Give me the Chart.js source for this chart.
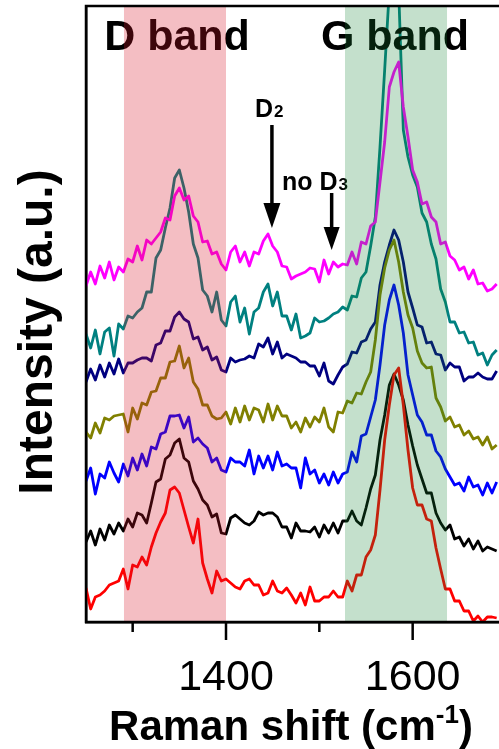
<!DOCTYPE html>
<html><head><meta charset="utf-8">
<script src="https://cdn.jsdelivr.net/npm/chart.js@4.4.1/dist/chart.umd.min.js"></script>
<style>html,body{margin:0;padding:0;background:#fff;overflow:hidden}canvas{display:block}</style>
</head><body>
<canvas id="c" width="499" height="749"></canvas>
<script>
// Raman shift (cm-1) sample positions
const ramanShift = [1250,1255,1260,1265,1270,1275,1280,1285,1290,1295,
1300,1305,1310,1315,1320,1325,1330,1335,1340,1345,
1350,1355,1360,1365,1370,1375,1380,1385,1390,1395,
1400,1405,1410,1415,1420,1425,1430,1435,1440,1445,
1450,1455,1460,1465,1470,1475,1480,1485,1490,1495,
1500,1505,1510,1515,1520,1525,1530,1535,1540,1545,
1550,1555,1560,1565,1570,1575,1580,1585,1590,1595,
1600,1605,1610,1615,1620,1625,1630,1635,1640,1645,
1650,1655,1660,1665,1670,1675,1680,1685,1690];

// stacked spectra (arbitrary intensity units, offsets included)
const magentaSpectrum = [336,350,338,356,344,360,342,355,350,363,
360,376,362,382,378,384,390,404,402,426,
434,422,426,406,400,380,381,368,370,358,
352,370,376,360,370,356,370,368,381,388,
376,370,356,355,343,346,348,350,354,353,
340,362,348,360,355,358,357,370,358,380,
378,396,400,440,480,535,550,560,515,485,
452,440,418,420,405,400,378,380,366,362,
352,355,343,352,338,339,331,333,338];

const tealSpectrum = [288,274,292,268,290,294,266,298,293,306,
304,310,314,330,330,364,372,394,414,444,
452,434,410,378,364,332,326,310,330,302,
296,320,326,300,314,288,310,314,330,338,
316,330,306,306,292,308,284,286,289,304,
300,301,304,308,310,315,312,326,325,344,
350,376,405,475,552,632,642,632,492,465,
447,435,409,400,378,363,333,320,300,300,
289,290,279,280,267,269,257,267,272];

const navySpectrum = [240,253,242,257,245,259,248,263,249,259,
259,262,264,264,261,277,279,291,291,305,
310,303,300,283,285,272,275,262,265,252,
250,264,260,262,263,266,264,278,275,284,
268,280,264,268,266,264,260,260,256,256,
246,259,241,238,247,255,258,270,269,280,
282,293,300,337,360,377,392,382,360,330,
314,297,295,279,280,268,267,252,259,255,
255,241,245,245,249,245,243,243,251];

const oliveSpectrum = [190,184,199,189,204,202,206,207,208,190,
214,203,219,217,230,231,244,244,260,261,
276,254,264,240,233,217,217,206,203,204,
210,198,214,200,216,202,214,212,200,218,
202,216,206,206,194,200,190,204,195,205,
200,214,195,190,210,209,221,219,229,228,
240,250,282,327,354,372,382,360,330,307,
294,271,259,254,255,224,215,201,205,195,
197,187,191,183,185,177,185,173,177];

const blueSpectrum = [141,154,128,148,144,160,149,140,158,146,
164,152,168,156,175,173,188,190,206,206,
207,194,205,180,184,178,174,160,164,152,
150,164,160,160,156,172,148,166,154,166,
152,170,156,158,154,154,134,164,148,152,
139,148,137,150,139,148,150,170,160,186,
188,205,222,257,297,322,337,317,289,247,
227,207,200,187,187,171,165,153,145,137,
139,131,145,135,137,127,139,129,140];

const blackSpectrum = [80,91,77,93,82,97,88,99,91,103,
95,109,107,99,119,140,143,163,167,179,
183,164,160,141,133,122,117,105,108,89,
88,104,107,103,99,97,101,110,107,109,
109,105,95,95,84,99,91,91,90,95,
85,97,89,99,89,101,101,111,101,97,
114,133,147,182,207,237,248,237,222,197,
176,157,143,129,129,109,99,92,97,83,
85,76,83,73,81,71,75,73,71];

const redSpectrum = [34,13,25,27,31,37,39,41,53,33,
57,55,65,57,75,89,100,109,132,135,
129,112,95,79,103,59,43,29,51,41,
43,39,35,33,41,43,37,37,27,29,
41,31,29,34,27,19,29,17,35,21,
21,25,25,31,25,25,41,31,47,47,
65,72,87,132,182,217,247,254,217,172,
134,117,117,103,101,74,53,33,33,21,
21,11,11,1,6,0,5,5,4];

const labeledTicks = [1400, 1600];
const minorTicks = [1300, 1500];
const dBandRange = [1290.7, 1400];
const gBandRange = [1527.5, 1636.8];
const bandLabels = ['D band', 'G band'];
const xTitle = ['Raman shift (cm', '-1', ')'];
const yTitle = 'Intensity (a.u.)';

const FONT = "'Liberation Sans', Arial, Helvetica, sans-serif";

function mk(arr, color, order) {
  return {
    data: ramanShift.map((x, i) => ({x: x, y: arr[i]})),
    borderColor: color, backgroundColor: color,
    borderWidth: 2.8, pointRadius: 0, tension: 0, fill: false, order: order,
    borderJoinStyle: 'round'
  };
}

const overlay = {
  id: 'overlay',
  afterDatasetsDraw(chart) {
    const {ctx, chartArea: a, scales: {x, y}} = chart;
    ctx.save();
    ctx.fillStyle = '#000';
    ctx.strokeStyle = '#000';
    ctx.textBaseline = 'alphabetic';
    ctx.font = `bold 43px ${FONT}`;
    ctx.textAlign = 'center';
    ctx.fillText(bandLabels[0], x.getPixelForValue(1347.5), y.getPixelForValue(572));
    ctx.fillText(bandLabels[1], x.getPixelForValue(1581), y.getPixelForValue(572));
    ctx.textAlign = 'left';
    let px = x.getPixelForValue(1431), py = y.getPixelForValue(505);
    ctx.font = `bold 25px ${FONT}`;
    ctx.fillText('D', px, py);
    let w = ctx.measureText('D').width;
    ctx.font = `bold 17px ${FONT}`;
    ctx.fillText('2', px + w + 1, py);
    px = x.getPixelForValue(1460); py = y.getPixelForValue(432);
    ctx.font = `bold 25px ${FONT}`;
    ctx.fillText('no D', px, py);
    w = ctx.measureText('no D').width;
    ctx.font = `bold 17px ${FONT}`;
    ctx.fillText('3', px + w + 1, py);
    function arrow(xv, y0, y1, hl, hw) {
      const ax = x.getPixelForValue(xv), ay0 = y.getPixelForValue(y0), ay1 = y.getPixelForValue(y1);
      ctx.lineWidth = 3.5;
      ctx.beginPath(); ctx.moveTo(ax, ay0); ctx.lineTo(ax, ay1 - hl + 2); ctx.stroke();
      ctx.beginPath(); ctx.moveTo(ax - hw, ay1 - hl); ctx.lineTo(ax + hw, ay1 - hl); ctx.lineTo(ax, ay1); ctx.closePath(); ctx.fill();
    }
    arrow(1449.2, 497, 394, 25, 8.5);
    arrow(1513.2, 429, 372, 23, 8);
    const xl1 = x.getPixelForValue(dBandRange[0]), xr1 = x.getPixelForValue(dBandRange[1]);
    const xl2 = x.getPixelForValue(gBandRange[0]), xr2 = x.getPixelForValue(gBandRange[1]);
    ctx.fillStyle = 'rgba(214,23,41,0.28)';
    ctx.fillRect(xl1, a.top, xr1 - xl1, a.bottom - a.top);
    ctx.fillStyle = 'rgba(20,132,52,0.25)';
    ctx.fillRect(xl2, a.top, xr2 - xl2, a.bottom - a.top);
    ctx.restore();
  },
  afterDraw(chart) {
    const {ctx, chartArea: a, scales: {x}} = chart;
    ctx.save();
    ctx.strokeStyle = '#000';
    ctx.lineWidth = 2.5;
    ctx.beginPath();
    ctx.moveTo(a.left, a.top); ctx.lineTo(a.right, a.top);
    ctx.moveTo(a.left, a.top - 1.25); ctx.lineTo(a.left, a.bottom + 1.25);
    ctx.moveTo(a.left - 1.25, a.bottom); ctx.lineTo(a.right, a.bottom);
    ctx.stroke();
    x.ticks.forEach(t => {
      const v = t.value;
      let len = 0;
      if (labeledTicks.includes(v)) len = 18;
      else if (minorTicks.includes(v)) len = 10;
      if (!len) return;
      const tx = x.getPixelForValue(v);
      ctx.beginPath(); ctx.moveTo(tx, a.bottom); ctx.lineTo(tx, a.bottom + len); ctx.stroke();
    });
    ctx.fillStyle = '#000';
    ctx.textBaseline = 'alphabetic';
    ctx.textAlign = 'left';
    const big = `bold 42px ${FONT}`, sup = `bold 26px ${FONT}`;
    ctx.font = big; const w1 = ctx.measureText(xTitle[0]).width; const w3 = ctx.measureText(xTitle[2]).width;
    ctx.font = sup; const w2 = ctx.measureText(xTitle[1]).width;
    const total = w1 + w2 + w3;
    let sx = 291 - total / 2; const by = 740;
    ctx.font = big; ctx.fillText(xTitle[0], sx, by);
    ctx.font = sup; ctx.fillText(xTitle[1], sx + w1, by - 17);
    ctx.font = big; ctx.fillText(xTitle[2], sx + w1 + w2, by);
    ctx.translate(52, 332);
    ctx.rotate(-Math.PI / 2);
    ctx.textAlign = 'center';
    ctx.font = `bold 48px ${FONT}`;
    ctx.fillText(yTitle, 0, 0);
    ctx.restore();
  }
};

new Chart(document.getElementById('c'), {
  type: 'line',
  data: {
    datasets: [
      mk(magentaSpectrum, '#ff00ff', 1),
      mk(tealSpectrum, '#008080', 6),
      mk(navySpectrum, '#000080', 5),
      mk(oliveSpectrum, '#808000', 3),
      mk(blueSpectrum, '#0000ff', 4),
      mk(blackSpectrum, '#000000', 2),
      mk(redSpectrum, '#ff0000', 0)
    ]
  },
  options: {
    responsive: false,
    animation: false,
    events: [],
    layout: {padding: {top: 6, left: 0, right: 0, bottom: 0}},
    plugins: {legend: {display: false}, tooltip: {enabled: false}, title: {display: false}},
    scales: {
      x: {
        type: 'linear', min: 1250, max: 1692.5,
        afterFit(s) { s.height = 127; },
        grid: {display: false, drawTicks: true, tickLength: 18},
        border: {display: true, width: 2.5, color: '#000'},
        ticks: {
          stepSize: 100, includeBounds: false, autoSkip: false, maxRotation: 0, minRotation: 0, padding: 12,
          color: '#000', font: {family: FONT, size: 43, weight: 'normal'},
          callback: v => labeledTicks.includes(v) ? String(v) : ''
        }
      },
      y: {
        min: 0, max: 616,
        afterFit(s) { s.width = 86; },
        grid: {display: false, drawTicks: false},
        border: {display: true, width: 2.5, color: '#000'},
        ticks: {display: false}
      }
    }
  },
  plugins: [overlay]
});
</script>
</body></html>
